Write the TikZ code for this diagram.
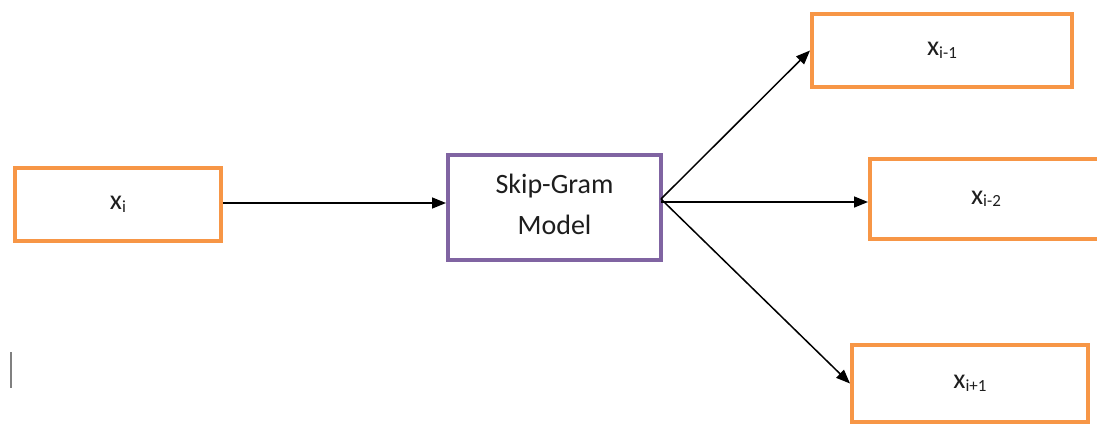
\documentclass[tikz,border=0pt]{standalone}
\usepackage{fontspec}
\setmainfont{Carlito}
\usetikzlibrary{arrows.meta}
\definecolor{boxorange}{HTML}{F79646}
\definecolor{boxpurple}{HTML}{8064A2}
\definecolor{ink}{HTML}{1E1E1E}
\newcommand{\wsub}[1]{\raisebox{-2.5pt}{\fontsize{17}{17}\selectfont #1}}
\tikzset{
  wordbox/.style={draw=boxorange, line width=4pt, rectangle, fill=white,
    text=ink, font=\fontsize{28}{28}\selectfont, inner sep=0pt},
  modelbox/.style={draw=boxpurple, line width=4pt, rectangle, fill=white,
    text=ink, font=\fontsize{28}{41}\selectfont, align=center, inner sep=0pt},
  link/.style={draw=black, line width=1.5pt, -{Triangle[length=14pt,width=11pt]}}
}
\begin{document}
\begin{tikzpicture}[x=1pt,y=-1pt]
  \useasboundingbox (0,0) rectangle (1097,426);
  \clip (0,0) rectangle (1097,426);
  % input word, model and context words
  \node[wordbox, minimum width=206pt, minimum height=73pt] (xi) at (118,204.5) {x\wsub{i}};
  \node[modelbox, minimum width=213pt, minimum height=105pt] (sg) at (554.5,207.5)
    {Skip-Gram\\Model\rule[-6pt]{0pt}{6pt}};
  \node[wordbox, minimum width=260pt, minimum height=73pt] (x1) at (942,50.5) {x\wsub{i-1}};
  \node[wordbox, minimum width=232pt, minimum height=80pt] (x2) at (986,199) {x\wsub{i-2}};
  \node[wordbox, minimum width=236pt, minimum height=77pt] (x3) at (970,383.5) {x\wsub{i+1}};
  % fan-out point on the model's right side
  \coordinate (hub) at (661,199);
  \coordinate (hubmid) at (661,202);
  % connectors
  \draw[link] (xi.east |- 0,203) -- (sg.west |- 0,203);
  \draw[link] (hub) -- (x1.west);
  \draw[link] (hubmid) -- (hubmid -| x2.west);
  \draw[link] (hub) -- (x3.west);
  % text cursor mark
  \draw[gray, line width=1.5pt] (11,352) -- (11,388);
\end{tikzpicture}
\end{document}
